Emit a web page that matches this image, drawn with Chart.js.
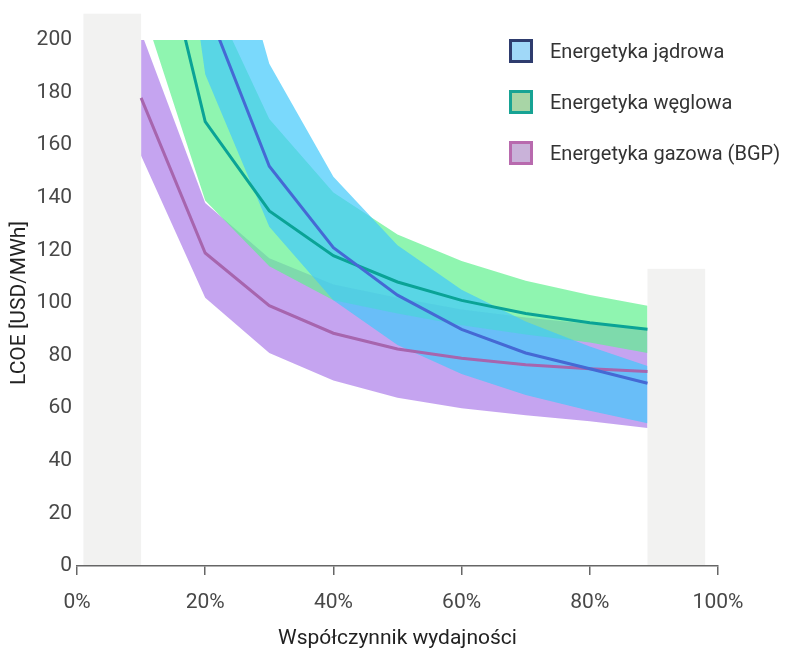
<!DOCTYPE html>
<html lang="pl">
<head>
<meta charset="utf-8">
<title>LCOE</title>
<script src="https://cdn.jsdelivr.net/npm/chart.js@4.4.1/dist/chart.umd.min.js"></script>
<style>
  html, body { margin: 0; padding: 0; background: #fff; }
  #wrap { position: relative; width: 785px; height: 651px; }
  #legend { position: absolute; left: 509px; top: 39px; font: 20px Roboto, sans-serif; color: #333; }
  .item { display: flex; align-items: center; height: 24px; margin-bottom: 27px; white-space: nowrap; }
  .box { width: 18px; height: 18px; border: 3px solid; margin-right: 17px; }
</style>
</head>
<body>
<div id="wrap">
  <canvas id="chart" width="785" height="651"></canvas>
  <div id="legend"></div>
</div>
<script>
// capacity factor (%) and LCOE values (USD/MWh)
const capacity = [10, 20, 30, 40, 50, 60, 70, 80, 89];

const nuclearMid  = [400, 214, 152, 121, 103, 90, 81, 75, 69.5];
const nuclearHigh = [530, 277, 191, 148, 122, 105, 93, 83.5, 76];
const nuclearLow  = [360, 187, 129, 101, 84, 73, 65, 59, 54.3];

const coalMid  = [270, 169, 135, 118, 108, 101, 96, 92.5, 90];
const coalHigh = [300, 222, 170, 142, 126, 116, 108.5, 103, 99];
const coalLow  = [214, 139, 114, 101, 96, 91.5, 88, 85, 81];

const gasMid  = [178, 119, 99, 88.5, 82.5, 79, 76.5, 75, 74];
const gasHigh = [203, 138, 117, 107, 102, 97.5, 94.5, 92, 90];
const gasLow  = [156, 102, 81, 70.5, 64, 60, 57.3, 55, 52.5];

const names = ['Energetyka jądrowa', 'Energetyka węglowa', 'Energetyka gazowa (BGP)'];
const lineColors = ['#4569d4', '#0aa396', '#a765ae'];
const bandColors = ['rgba(65,201,251,0.7)', 'rgba(96,241,142,0.7)', 'rgba(172,126,234,0.7)'];
const legendFill = ['#a0d8f8', '#a8d5a6', '#c9b2d9'];
const legendBorder = ['#2e3c6e', '#17a394', '#b86aae'];

const xTicks = [0, 20, 40, 60, 80, 100];
const yTicks = [0, 20, 40, 60, 80, 100, 120, 140, 160, 180, 200];

// grey "out of range" zones: x from, x to, top value
const shadeFrom = [1, 89];
const shadeTo = [10, 98];
const shadeTop = [210, 113];

function pts(values) {
  return capacity.map((x, i) => ({ x: x, y: values[i] }));
}

function line(i, values) {
  return { label: names[i], data: pts(values), borderColor: lineColors[i], borderWidth: 3, fill: false };
}

function band(color, values, fill) {
  return { data: pts(values), borderColor: 'transparent', borderWidth: 0, backgroundColor: color, fill: fill };
}

const shadePlugin = {
  id: 'shade',
  beforeDraw(chart) {
    const { ctx, scales: { x, y } } = chart;
    ctx.save();
    ctx.fillStyle = '#f2f2f1';
    shadeFrom.forEach((s, i) => {
      const l = x.getPixelForValue(s);
      const r = x.getPixelForValue(shadeTo[i]);
      const t = y.getPixelForValue(shadeTop[i]);
      const b = y.getPixelForValue(0);
      ctx.fillRect(l, t, r - l, b - t);
    });
    ctx.restore();
  }
};

Chart.defaults.font.family = 'Roboto';
Chart.defaults.font.size = 21;

new Chart(document.getElementById('chart'), {
  type: 'line',
  data: {
    datasets: [
      line(0, nuclearMid),
      line(1, coalMid),
      line(2, gasMid),
      band(bandColors[0], nuclearHigh, '+1'),
      band(bandColors[0], nuclearLow, false),
      band(bandColors[1], coalHigh, '+1'),
      band(bandColors[1], coalLow, false),
      band(bandColors[2], gasHigh, '+1'),
      band(bandColors[2], gasLow, false)
    ]
  },
  options: {
    responsive: false,
    animation: false,
    layout: { padding: { top: 40, right: 67, bottom: 0, left: 0 } },
    elements: { point: { radius: 0 }, line: { tension: 0 } },
    plugins: {
      legend: { display: false },
      tooltip: { enabled: false },
      filler: { drawTime: 'beforeDatasetsDraw' }
    },
    scales: {
      x: {
        type: 'linear',
        min: 0,
        max: 100,
        afterBuildTicks: s => { s.ticks = xTicks.map(v => ({ value: v })); },
        afterFit: s => { s.height = 85; },
        ticks: { color: '#484848', padding: 15, callback: v => v + '%' },
        grid: { drawOnChartArea: false, drawTicks: true, tickLength: 9, color: '#666', lineWidth: 1.5 },
        border: { display: true, color: '#666', width: 1.5 },
        title: { display: true, text: 'Współczynnik wydajności', color: '#222', padding: { top: 0, bottom: 0 } }
      },
      y: {
        min: 0,
        max: 200,
        afterBuildTicks: s => { s.ticks = yTicks.map(v => ({ value: v })); },
        afterFit: s => { s.width = 77; },
        ticks: { color: '#484848', padding: 5 },
        grid: { display: false, drawTicks: false },
        border: { display: false },
        title: { display: true, text: 'LCOE [USD/MWh]', color: '#222', padding: { top: 7, bottom: 0 } }
      }
    }
  },
  plugins: [shadePlugin]
});

const legend = document.getElementById('legend');
names.forEach((n, i) => {
  const item = document.createElement('div');
  item.className = 'item';
  const box = document.createElement('span');
  box.className = 'box';
  box.style.background = legendFill[i];
  box.style.borderColor = legendBorder[i];
  const text = document.createElement('span');
  text.textContent = n;
  item.appendChild(box);
  item.appendChild(text);
  legend.appendChild(item);
});
</script>
</body>
</html>
